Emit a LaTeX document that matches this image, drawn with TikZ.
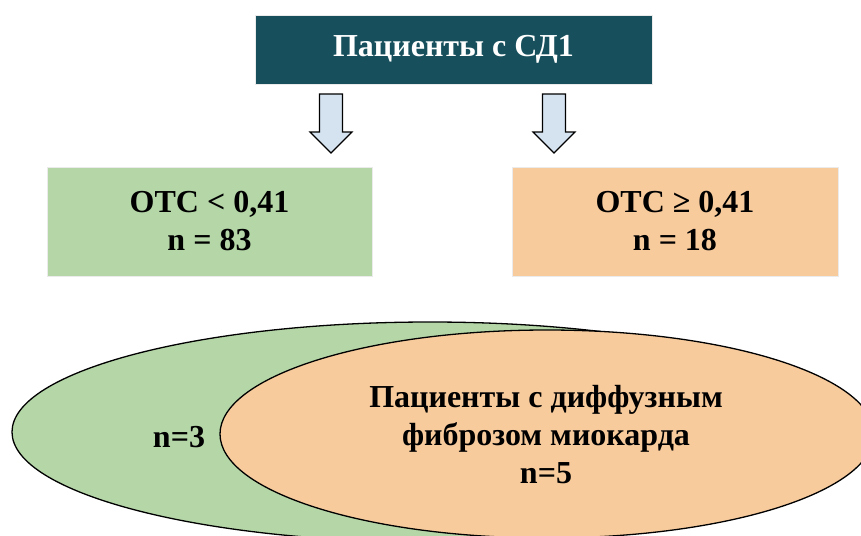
\documentclass[tikz,border=0pt]{standalone}
\usepackage{fontspec}
\setmainfont{Liberation Serif}
\usetikzlibrary{shapes.geometric}

\definecolor{hdrTeal}{HTML}{17505C}
\definecolor{boxGreen}{HTML}{B5D7A8}
\definecolor{boxOrange}{HTML}{F8CB9D}
\definecolor{arrowBlue}{HTML}{D5E3F1}

\tikzset{
  bigtext/.style={font=\bfseries\fontsize{32}{38}\selectfont, align=center},
  groupbox/.style={rectangle, draw=black!8, line width=0.8pt, minimum height=109pt, inner sep=0pt, bigtext},
  blob/.style={ellipse, draw=black, line width=1.3pt, inner sep=0pt},
  arrowstyle/.style={draw=black, fill=arrowBlue, line width=1.1pt, line join=miter},
  blockarrow/.pic={
    \draw[arrowstyle] (-11.5,0) -- (11.5,0) -- (11.5,38) -- (21,38) -- (0,59)
      -- (-21,38) -- (-11.5,38) -- cycle;
  }
}

\begin{document}
\begin{tikzpicture}[x=1pt, y=-1pt]
  \useasboundingbox (0,0) rectangle (861,535);

  % header
  \node[rectangle, fill=hdrTeal, draw=black!8, line width=0.8pt,
        minimum width=397pt, minimum height=69pt, inner sep=0pt,
        bigtext, text=white] (head) at (453.5,49.5) {Пациенты с СД1};

  % block arrows under the header
  \pic at (331,94) {blockarrow};
  \pic at (554,94) {blockarrow};

  % the two groups
  \node[groupbox, fill=boxGreen, minimum width=325pt] (low) at (209.5,221.5)
    {ОТС < 0,41\\n = 83};
  \node[groupbox, fill=boxOrange, minimum width=326pt] (high) at (675,221.5)
    {ОТС ≥ 0,41\\n = 18};

  % nested ellipses, cut at the page edge
  \begin{scope}
    \clip (0,0) rectangle (861,535);
    \node[blob, fill=boxGreen, minimum width=836pt, minimum height=220pt] (outer) at (430,432) {};
    \node[blob, fill=boxOrange, minimum width=654pt, minimum height=208pt] (inner) at (547,434) {};
  \end{scope}

  \node[bigtext] (rest) at (179,437) {n=3};
  \node[bigtext] (fib) at (546,435) {Пациенты с диффузным\\фиброзом миокарда\\n=5};
\end{tikzpicture}
\end{document}
